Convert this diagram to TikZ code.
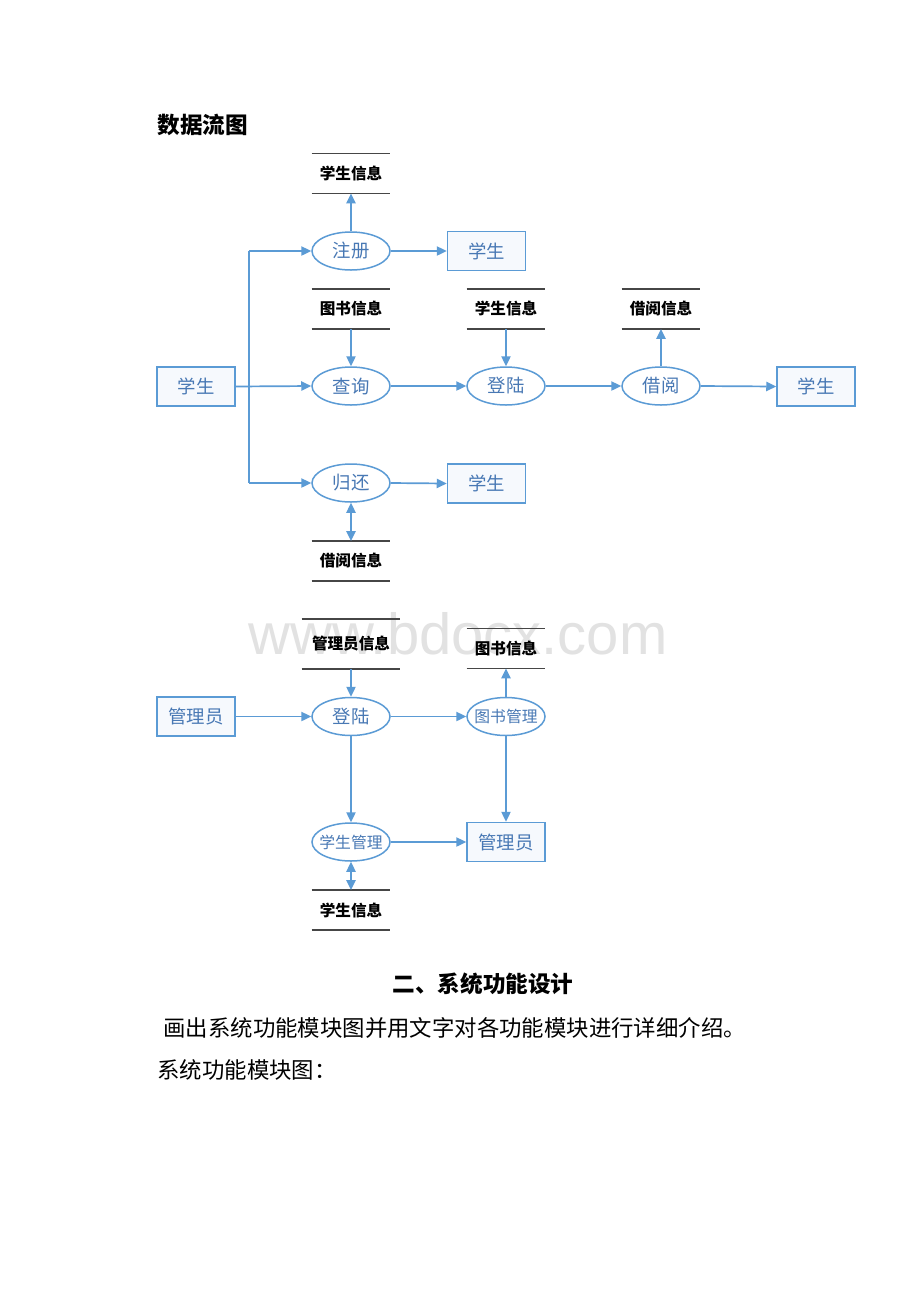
\documentclass[tikz,border=0pt]{standalone}
\usepackage{fontspec}
\setmainfont{Liberation Sans}
\newfontfamily\cjk{Noto Sans CJK SC}
\usetikzlibrary{arrows.meta,shapes.geometric}
\definecolor{lblue}{RGB}{91,155,213}
\definecolor{tblue}{RGB}{72,120,180}
\definecolor{boxfill}{RGB}{246,249,253}
\definecolor{sgray}{RGB}{70,70,70}
\definecolor{wmark}{RGB}{226,226,226}
\begin{document}
\begin{tikzpicture}[x=0.5pt,y=-0.5pt,
  flow/.style={draw=lblue,line width=0.85pt,-{Triangle[length=5pt,width=4.6pt]}},
  bflow/.style={draw=lblue,line width=0.85pt,{Triangle[length=5pt,width=4.6pt]}-{Triangle[length=5pt,width=4.6pt]}},
  trunk/.style={draw=lblue,line width=0.85pt},
  ent/.style={draw=lblue,line width=0.75pt,fill=boxfill,minimum width=39pt,minimum height=19.5pt,inner sep=0pt,text=tblue,font=\cjk\fontsize{9.2}{9.2}\selectfont},
  proc/.style={ellipse,draw=lblue,line width=0.75pt,fill=white,minimum width=39pt,minimum height=19pt,inner sep=0pt},
  ptext/.style={text=tblue,font=\cjk\fontsize{9.2}{9.2}\selectfont,inner sep=0pt},
  ptexts/.style={text=tblue,font=\cjk\fontsize{7.9}{7.9}\selectfont,inner sep=0pt},
  store/.style={minimum width=39pt,minimum height=19.5pt,inner sep=0pt,font=\cjk\bfseries\fontsize{7.8}{7.8}\selectfont},
  sline/.style={draw=sgray,line width=0.8pt},
  head/.style={font=\cjk\bfseries\fontsize{11.3}{11.3}\selectfont,inner sep=0pt},
  body/.style={font=\cjk\fontsize{11.2}{11.2}\selectfont,inner sep=0pt}]

\useasboundingbox[fill=white] (0,0) rectangle (920,1302);

% watermark
\node[text=wmark,font=\fontsize{29}{29}\selectfont,inner sep=0pt] (wm) at (458,634) {www.bdocx.com};

% heading
\node[head,anchor=west] (title) at (157,125) {数据流图};

% ---------- upper diagram ----------
\node[store] (s1) at (351,173.5) {学生信息};
\draw[sline] (s1.north west) -- (s1.north east) (s1.south west) -- (s1.south east);
\node[store] (s2) at (351,309) {图书信息};
\draw[sline] (s2.north west) -- (s2.north east) (s2.south west) -- (s2.south east);
\node[store] (s3) at (506,309) {学生信息};
\draw[sline] (s3.north west) -- (s3.north east) (s3.south west) -- (s3.south east);
\node[store] (s4) at (661,309) {借阅信息};
\draw[sline] (s4.north west) -- (s4.north east) (s4.south west) -- (s4.south east);
\node[store] (s5) at (351,561) {借阅信息};
\draw[sline] (s5.north west) -- (s5.north east) (s5.south west) -- (s5.south east);

\node[ent] (stuL) at (196,386.5) {学生};
\node[ent] (stuA) at (486.5,251) {学生};
\node[ent] (stuB) at (816,386.5) {学生};
\node[ent] (stuC) at (486.5,483.5) {学生};

\node[proc] (reg) at (351,251) {};
\node[ptext] at (reg) {注册};
\node[proc] (qry) at (351,386) {};
\node[ptext] at (qry) {查询};
\node[proc] (log1) at (506,386) {};
\node[ptext] at (log1) {登陆};
\node[proc] (brw) at (661,386) {};
\node[ptext] at (brw) {借阅};
\node[proc] (ret) at (351,483) {};
\node[ptext] at (ret) {归还};

\coordinate (t1) at (249,251);
\coordinate (t2) at (249,483);
\draw[trunk] (t1) -- (t2);
\draw[flow] (t1) -- (reg.west);
\draw[flow] (t2) -- (ret.west);
\draw[flow] (stuL.east) -- (qry.west);
\draw[flow] (reg.east) -- (stuA.west);
\draw[flow] (reg.north) -- (s1.south);
\draw[flow] (s2.south) -- (qry.north);
\draw[flow] (qry.east) -- (log1.west);
\draw[flow] (s3.south) -- (log1.north);
\draw[flow] (log1.east) -- (brw.west);
\draw[flow] (brw.north) -- (s4.south);
\draw[flow] (brw.east) -- (stuB.west);
\draw[flow] (ret.east) -- (stuC.west);
\draw[bflow] (ret.south) -- (s5.north);

% ---------- lower diagram ----------
\node[store,minimum width=49pt,minimum height=24.5pt] (m1) at (351,644) {管理员信息};
\draw[sline] (m1.north west) -- (m1.north east) (m1.south west) -- (m1.south east);
\node[store] (m2) at (506,648.5) {图书信息};
\draw[sline] (m2.north west) -- (m2.north east) (m2.south west) -- (m2.south east);
\node[store] (m3) at (351,910) {学生信息};
\draw[sline] (m3.north west) -- (m3.north east) (m3.south west) -- (m3.south east);

\node[ent] (admL) at (196,716.5) {管理员};
\node[ent] (admR) at (506,842) {管理员};

\node[proc] (log2) at (351,716.5) {};
\node[ptext] at (log2) {登陆};
\node[proc] (bkm) at (506,716.5) {};
\node[ptexts] at (bkm) {图书管理};
\node[proc] (stm) at (351,842) {};
\node[ptexts] at (stm) {学生管理};

\draw[flow] (admL.east) -- (log2.west);
\draw[flow] (m1.south) -- (log2.north);
\draw[flow] (log2.east) -- (bkm.west);
\draw[flow] (bkm.north) -- (m2.south);
\draw[flow] (log2.south) -- (stm.north);
\draw[flow] (bkm.south) -- (admR.north);
\draw[flow] (stm.east) -- (admR.west);
\draw[bflow] (stm.south) -- (m3.north);

% ---------- text below ----------
\node[head] (sec) at (483,984) {二、系统功能设计};
\node[body,anchor=west] (p1) at (163,1028) {画出系统功能模块图并用文字对各功能模块进行详细介绍。};
\node[body,anchor=west] (p2) at (157,1070) {系统功能模块图：};
\end{tikzpicture}
\end{document}
